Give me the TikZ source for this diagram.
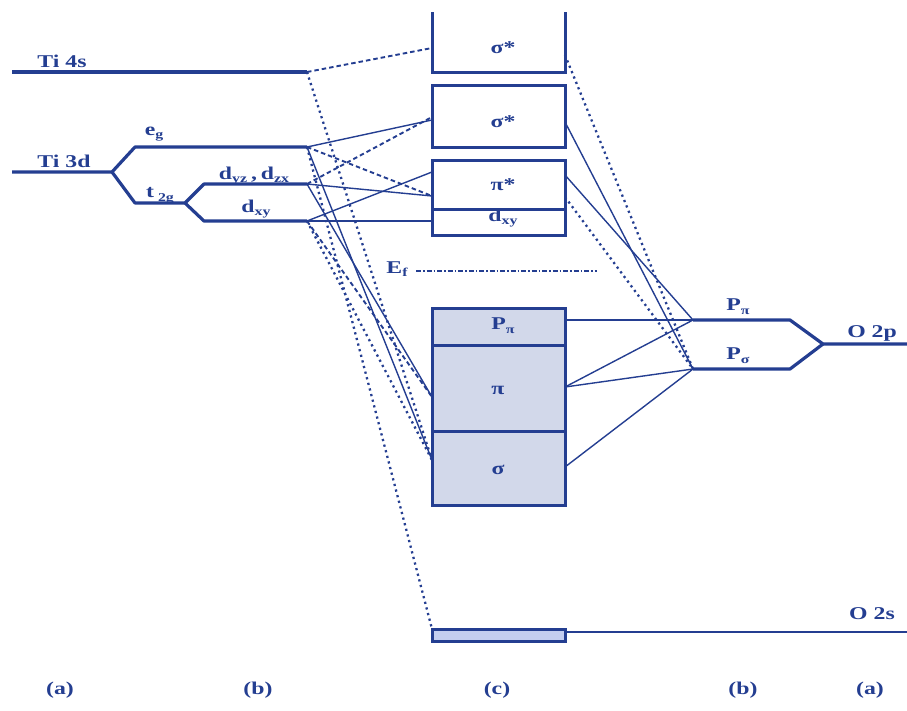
\documentclass[tikz,border=0pt]{standalone}
\usepackage{fontspec}
\setmainfont{Liberation Serif}
\usetikzlibrary{calc}
\definecolor{lc}{RGB}{36,62,145}
\definecolor{boxfill}{RGB}{210,216,234}
\definecolor{sfill}{RGB}{196,206,240}
\newcommand\sx[1]{\scalebox{1.32}[1]{#1}}
\newcommand\sbs[1]{\raisebox{-0.45ex}{\fontsize{12}{12}\selectfont #1}}
\begin{document}
\begin{tikzpicture}[x=1pt,y=-1pt,
 lvl/.style={draw=lc,line width=3.2pt,line join=round},
 con/.style={draw=lc,line width=1.4pt},
 dsh/.style={draw=lc,line width=1.9pt,dash pattern=on 4.5pt off 3pt},
 dotl/.style={draw=lc,line width=2.3pt,dash pattern=on 2.2pt off 3.6pt},
 efl/.style={draw=lc,line width=1.4pt,dash pattern=on 5pt off 2pt on 1.5pt off 2pt},
 lab/.style={text=lc,font=\bfseries\fontsize{18}{18}\selectfont,inner sep=0pt},
 bx/.style={draw=lc,line width=3pt,inner sep=0pt,minimum width=133pt}]
\useasboundingbox (0,0) rectangle (907,710);

% ---------- left levels ----------
\coordinate (t4a) at (12,72);   \coordinate (t4b) at (307,72);
\coordinate (t3a) at (12,172);  \coordinate (t3b) at (112,172);
\coordinate (ega) at (135,147); \coordinate (egb) at (307,147);
\coordinate (t2a) at (135,203); \coordinate (t2b) at (185,203);
\coordinate (dyza) at (204,184); \coordinate (dyzb) at (307,184);
\coordinate (dxya) at (204,221); \coordinate (dxyb) at (307,221);
\draw[lvl] (t4a) -- (t4b);
\draw[lvl] (t3a) -- (t3b) -- (ega) -- (egb);
\draw[lvl] (t3b) -- (t2a) -- (t2b) -- (dyza) -- (dyzb);
\draw[lvl] (t2b) -- (dxya) -- (dxyb);

\node[lab] (lt4) at (62,61) {\sx{Ti 4s}};
\node[lab] (lt3) at (64,161) {\sx{Ti 3d}};
\node[lab] (leg) at (154,134) {\sx{e\sbs{g}}};
\node[lab] (lt2) at (160,196) {\sx{t\,\sbs{2g}}};
\node[lab] (ldyz) at (254,176) {\sx{d\sbs{yz}\,,\,d\sbs{zx}}};
\node[lab] (ldxy) at (256,209) {\sx{d\sbs{xy}}};

% ---------- centre column ----------
\draw[lvl,line width=3pt,line join=miter] (432,12) -- (432,72) -- (565,72) -- (565,12);
\node[lab] (ls1) at (503,48) {\sx{σ*}};
\node[bx,minimum height=62pt] (ss2) at (498.5,116) {};
\node[lab] (ls2) at (503,122) {\sx{σ*}};
\node[bx,minimum height=49pt] (pis) at (498.5,184.5) {};
\node[lab] (lpis) at (503,185) {\sx{π*}};
\node[bx,minimum height=26pt] (dxyx) at (498.5,222) {};
\node[lab] (ldxx) at (503,218) {\sx{d\sbs{xy}}};

\node[bx,fill=boxfill,minimum height=37pt] (ppb) at (498.5,326.5) {};
\node[bx,fill=boxfill,minimum height=86pt] (pib) at (498.5,388) {};
\node[bx,fill=boxfill,minimum height=74pt] (sgb) at (498.5,468) {};
\node[lab] (lpp) at (503,326) {\sx{P\sbs{π}}};
\node[lab] (lpi) at (498,390) {\sx{π}};
\node[lab] (lsg) at (498,470) {\sx{σ}};

\node[bx,fill=sfill,minimum height=12pt] (o2sb) at (498.5,635) {};

% Fermi level
\node[lab] (lef) at (397,269) {\sx{E\sbs{f}}};
\coordinate (efa) at (416,271); \coordinate (efb) at (597,271);
\draw[efl] (efa) -- (efb);

% ---------- right levels ----------
\coordinate (ppa) at (693,320); \coordinate (ppc) at (790,320);
\coordinate (psa) at (693,369); \coordinate (psc) at (790,369);
\coordinate (o2pa) at (823,344); \coordinate (o2pb) at (907,344);
\draw[lvl] (ppa) -- (ppc) -- (o2pa) -- (o2pb);
\draw[lvl] (psa) -- (psc) -- (o2pa);
\node[lab] (lpp2) at (738,307) {\sx{P\sbs{π}}};
\node[lab] (lps2) at (738,356) {\sx{P\sbs{σ}}};
\node[lab] (lo2p) at (872,333) {\sx{O 2p}};

% O 2s
\coordinate (o2a) at (565,632); \coordinate (o2b) at (907,632);
\coordinate (o2c) at (693,632); \coordinate (o2d) at (790,632);
\coordinate (o2e) at (823,632);
\draw[con] (o2a) -- (o2b);
\draw[lvl,line width=2.4pt] (o2c) -- (o2d);
\draw[lvl,line width=2.4pt] (o2e) -- (o2b);
\node[lab] (lo2s) at (872,614) {\sx{O 2s}};

% ---------- attachment points ----------
\coordinate (s1L) at (432,48);  \coordinate (s1R) at (565,55);
\coordinate (s2L) at (432,120); \coordinate (s2L2) at (432,117);
\coordinate (s2R) at (565,122);
\coordinate (psL1) at (432,172); \coordinate (psL2) at (432,196);
\coordinate (psR) at (565,175);  \coordinate (psR2) at (565,197);
\coordinate (dxL) at (432,221);
\coordinate (ppR) at (565,320);
\coordinate (piL) at (432,397); \coordinate (piR) at (565,387);
\coordinate (sgL) at (432,460); \coordinate (sgR) at (565,467);
\coordinate (o2L) at (432,629);

% ---------- left connectors ----------
\draw[dsh] (t4b) -- (s1L);
\draw[dotl] (t4b) -- (sgL);
\draw[con] (egb) -- (s2L);
\draw[con] (egb) -- (sgL);
\draw[dsh] (egb) -- (psL2);
\draw[dotl] (egb) -- (o2L);
\draw[dsh] (dyzb) -- (s2L2);
\draw[con] (dyzb) -- (psL2);
\draw[con] (dyzb) -- (piL);
\draw[con] (dxyb) -- (psL1);
\draw[con] (dxyb) -- (dxL);
\draw[dsh] (dxyb) -- (piL);
\draw[dotl] (dxyb) -- (sgL);

% ---------- right connectors ----------
\draw[con] (ppR) -- (ppa);
\draw[con] (piR) -- (ppa);
\draw[con] (piR) -- (psa);
\draw[con] (sgR) -- (psa);
\draw[con] (s2R) -- (psa);
\draw[con] (psR) -- (ppa);
\draw[dotl] (s1R) -- (psa);
\draw[dotl] (psR2) -- (psa);

% ---------- bottom labels ----------
\node[lab] (ba1) at (60,690) {\sx{(a)}};
\node[lab] (bb1) at (258,690) {\sx{(b)}};
\node[lab] (bc) at (497,690) {\sx{(c)}};
\node[lab] (bb2) at (743,690) {\sx{(b)}};
\node[lab] (ba2) at (870,690) {\sx{(a)}};
\end{tikzpicture}
\end{document}
